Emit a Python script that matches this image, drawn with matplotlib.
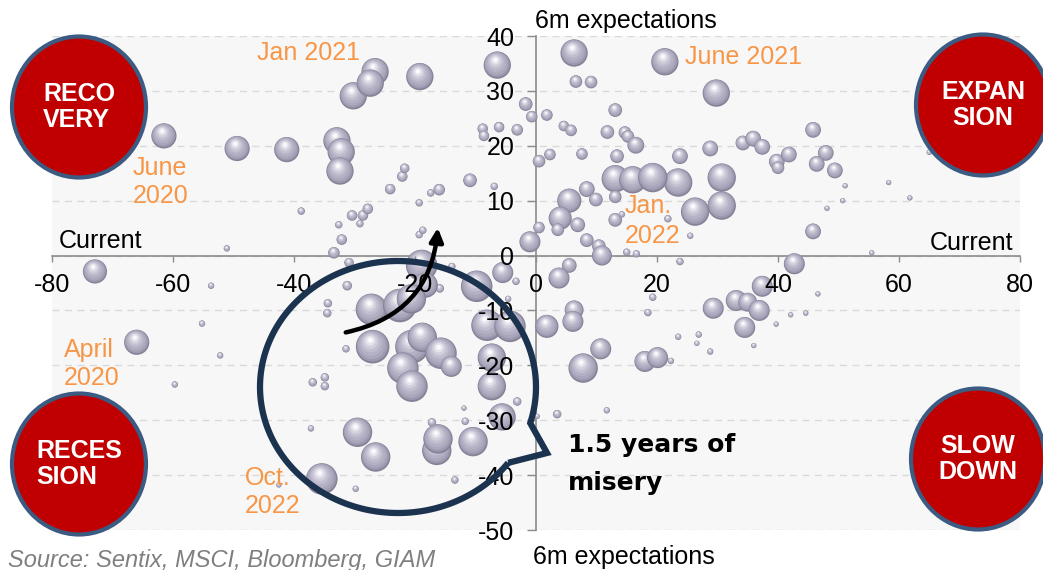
import numpy as np
import matplotlib
matplotlib.use("Agg")
import matplotlib.pyplot as plt
from matplotlib.patches import Ellipse, PathPatch, FancyArrowPatch
from matplotlib.path import Path
from matplotlib.transforms import Affine2D

plt.rcParams['font.family'] = ['Liberation Sans', 'DejaVu Sans']
plt.rcParams['axes.unicode_minus'] = False

# Sentix current situation (x) vs 6m expectations (y), bubble = size of the monthly move
cur = [-61.5, -49.4, -41.2, -32.9, -32.2, -32.4, -30.2, -26.6, -27.4, -19.2, -6.4, -1.7, -0.7,
       -8.8, -8.6, -6.1, -3.1, -38.8, -51.1, -30.4, -28.6, -27.8, -29.1, -32.6, -32.1, -33.4,
       -24.1, -22.1, -21.7, -19.3, -17.4, -16.0, -10.9, -6.9, -19.3, -18.7, -1.0,
       6.3, 6.6, 9.1, 21.3, 29.8, 1.8, 4.6, 5.8, 13.1, 11.8, 14.7, 15.2, 16.5, 0.5, 2.3,
       7.6, 13.4, 23.8, 13.1, 16.0, 23.5, 19.3, 30.7, 30.7, 26.3, 5.5, 4.0, 3.6, 6.9, 8.4,
       9.9, 13.1, 13.1, 14.2, 0.5, 8.4, 10.4, 10.9, 15.0, 16.6, 21.8, 25.5, 28.8, 34.2, 35.9,
       37.4, 45.8, 39.8, 40.0, 41.8, 47.9, 46.4, 49.4, 51.1, 50.7, 48.1, 45.8, 58.3, 61.8,
       65.0, 55.5,
       23.8, 42.7, 5.5, 3.8, 19.3, 18.5, 6.3, 6.1, 1.8, 10.7, 7.8, 18.0, 20.1, 22.3, 23.5,
       26.9, 26.6, 28.8, 29.3, 33.1, 35.0, 36.9, 34.5, 36.0, 37.4, 39.7, 42.1, 44.6, 46.6,
       3.5, 11.7, 0.2,
       -72.9, -53.7, -66.0, -55.2, -52.2, -59.7, -30.9, -31.2, -34.4, -34.5, -31.4, -36.9,
       -34.9, -34.9, -37.2, -35.4, -42.5, -29.8, -18.9, -13.9, -15.9, -18.3, -9.8, -5.5,
       -3.3, -4.6, -8.1, -4.3, -27.2, -22.5, -20.6, -27.0, -20.5, -18.8, -15.7, -14.0, -22.0,
       -20.5, -7.3, -7.3, -3.1, -11.9, -11.7, -17.2, -5.6, -29.5, -26.5, -16.4, -16.2, -10.4,
       -13.4]
exp6m = [21.8, 19.5, 19.3, 20.9, 18.9, 15.4, 29.1, 33.5, 31.4, 32.6, 34.7, 27.6, 25.3,
         23.1, 21.8, 23.4, 22.9, 8.1, 1.3, 7.3, 7.3, 8.5, 5.8, 5.6, 2.9, 0.5,
         12.1, 14.4, 15.9, 9.6, 11.4, 12.0, 13.7, 12.6, 3.8, 4.6, 2.5,
         36.9, 31.7, 31.6, 35.3, 29.6, 25.6, 23.6, 22.8, 26.5, 22.5, 22.4, 21.7, 20.1, 17.2, 18.4,
         18.5, 18.1, 18.1, 14.0, 13.8, 13.3, 14.2, 14.2, 9.1, 8.0, 10.0, 6.8, 4.7, 5.6, 12.1,
         10.2, 10.7, 6.5, 7.5, 5.1, 2.8, 1.7, 0.0, 0.6, 0.3, 6.7, 3.6, 19.5, 20.5, 21.3,
         19.8, 22.9, 17.1, 16.0, 18.4, 18.7, 16.7, 15.5, 12.7, 10.0, 8.6, 4.4, 13.3, 10.5,
         18.8, 0.5,
         -1.1, -1.5, -1.8, -4.1, -7.6, -10.4, -9.9, -12.0, -12.9, -17.0, -20.5, -19.3, -18.6, -19.2, -14.8,
         -14.4, -16.0, -17.5, -9.6, -8.2, -8.5, -10.0, -13.1, -16.4, -5.6, -12.5, -10.8, -10.5, -7.0,
         -28.9, -28.2, -29.3,
         -2.9, -5.5, -15.8, -12.4, -18.2, -23.5, -1.3, -5.5, -8.7, -10.5, -17.0, -23.1,
         -22.2, -23.8, -31.5, -40.7, -41.8, -42.5, -1.8, -2.0, -6.0, -5.4, -5.6, -3.1,
         -4.7, -7.9, -12.7, -12.9, -9.8, -9.1, -7.9, -16.6, -16.6, -14.9, -17.8, -20.2, -20.5,
         -23.8, -18.6, -23.8, -26.6, -27.8, -30.2, -30.4, -29.4, -32.2, -36.7, -35.5, -33.4, -33.9,
         -40.9]
move = [24, 24, 24, 26, 26, 26, 26, 26, 26, 26, 26, 13, 11,
        10, 10, 10, 11, 7, 6, 10, 10, 10, 7, 7, 10, 11,
        10, 10, 9, 7, 7, 11, 13, 7, 7, 7, 20,
        26, 12, 12, 26, 26, 11, 10, 11, 13, 13, 12, 12, 16, 12, 11,
        11, 13, 15, 26, 26, 27, 28, 27, 27, 27, 23, 22, 12, 14, 15,
        13, 12, 13, 6, 11, 13, 13, 19, 7, 7, 7, 6, 15, 14, 15,
        15, 15, 15, 12, 15, 15, 15, 15, 5, 5, 5, 15, 5, 5,
        5, 5,
        7, 20, 14, 20, 7, 7, 18, 20, 22, 20, 28, 20, 20, 6, 6,
        6, 5, 6, 20, 20, 18, 20, 20, 5, 20, 5, 5, 5, 5,
        8, 6, 5,
        23, 6, 24, 6, 6, 6, 9, 9, 8, 8, 7, 8,
        8, 8, 6, 30, 5, 6, 30, 7, 8, 24, 30, 20,
        7, 6, 30, 30, 30, 32, 28, 32, 32, 28, 30, 20, 30,
        30, 27, 27, 8, 5, 7, 8, 26, 28, 28, 28, 28, 28,
        7]

x_ticks = list(range(-80, 81, 20))
y_ticks = list(range(-50, 41, 10))

W, H = 1043, 570
fig = plt.figure(figsize=(W / 100, H / 100), dpi=100)
ax = fig.add_axes([52 / W, 40 / H, 968 / W, 494 / H])
ax.set_xlim(-80, 80)
ax.set_ylim(-50, 40)
ax.set_facecolor('#f7f7f7')

# pixel coordinates, origin top-left
px = Affine2D().scale(0.01, -0.01).translate(0, H / 100) + fig.dpi_scale_trans

for yv in y_ticks:
    ax.axhline(yv, color='#d9d9d9', lw=1, ls=(0, (5, 4)), zorder=0.5)

for side in ['top', 'right']:
    ax.spines[side].set_visible(False)
for side in ['left', 'bottom']:
    ax.spines[side].set_position(('data', 0))
    ax.spines[side].set_color('#8c8c8c')
    ax.spines[side].set_linewidth(1.2)
    ax.spines[side].set_zorder(1)
ax.set_xticks(x_ticks)
ax.set_yticks(y_ticks)
ax.tick_params(axis='x', direction='out', length=4.5, width=1, color='#8c8c8c', pad=8, labelsize=18)
ax.tick_params(axis='y', direction='out', length=6.5, width=1, color='#8c8c8c', pad=9, labelsize=18)
ax.set_axisbelow(False)

# shaded spheres: dark rim, then lighter discs pulled to the upper left
p0 = ax.transData.transform((0, 0))
p1 = ax.transData.transform((1, 1))
ux = 1 / (p1[0] - p0[0])
uy = 1 / (p1[1] - p0[1])
shade = [(1.00, 0.00, 0.00, '#858197'),
         (0.93, -0.02, 0.05, '#9c98ae'),
         (0.84, -0.05, 0.10, '#aaa6bb'),
         (0.72, -0.08, 0.17, '#b5b1c5'),
         (0.58, -0.11, 0.24, '#c2bed0'),
         (0.44, -0.13, 0.30, '#d2cfdc'),
         (0.30, -0.14, 0.35, '#e5e3eb'),
         (0.16, -0.14, 0.38, '#fafafc')]
for x, y, d in zip(cur, exp6m, move):
    r = 1.05 * d / 2
    xs = [x + ox * r * ux for f, ox, oy, c in shade]
    ys = [y + oy * r * uy for f, ox, oy, c in shade]
    ss = [(0.72 * 2 * r * f) ** 2 for f, ox, oy, c in shade]
    cs = [c for f, ox, oy, c in shade]
    ax.scatter(xs, ys, s=ss, c=cs, linewidths=0, zorder=2)

# axis captions
fig.text(535, 28, '6m expectations', transform=px, fontsize=18, va='baseline')
fig.text(533, 564, '6m expectations', transform=px, fontsize=18, va='baseline')
fig.text(59, 248, 'Current', transform=px, fontsize=18, va='baseline')
fig.text(1013, 250, 'Current', transform=px, fontsize=18, va='baseline', ha='right')
fig.text(8, 567, 'Source: Sentix, MSCI, Bloomberg, GIAM', transform=px, fontsize=17,
         va='baseline', style='italic', color='#7f7f7f')

# dates
orange = '#f79646'
dates = [(257, [60], ['Jan 2021']),
         (685, [64], ['June 2021']),
         (133, [175, 203], ['June', '2020']),
         (625, [213, 243], ['Jan.', '2022']),
         (64, [357, 385], ['April', '2020']),
         (245, [485, 513], ['Oct.', '2022'])]
for left, bases, lines in dates:
    for b, t in zip(bases, lines):
        fig.text(left, b, t, transform=px, fontsize=18, color=orange, va='baseline', zorder=3)

# regime badges
badges = [(79, 107, 'RECO\nVERY', 'left'),
          (983, 105, 'EXPAN\nSION', 'center'),
          (79, 464, 'RECES\nSION', 'left'),
          (978, 459, 'SLOW\nDOWN', 'center')]
for cx, cy, label, al in badges:
    fig.add_artist(Ellipse((cx, cy), 134, 141, transform=px, facecolor='#c00000',
                           edgecolor='#3b5b82', lw=3, zorder=4))
    fig.text(cx, cy, label, transform=px, fontsize=18, fontweight='bold', color='white',
             ha='center', va='center', multialignment=al, linespacing=1.12, zorder=5)

# speech bubble around the 2022 cluster
cx, cy, rx, ry = 398, 387, 138, 126
a0 = np.arctan2((462 - cy) / ry, (507 - cx) / rx)
a1 = np.arctan2((423 - cy) / ry, (530 - cx) / rx) + 2 * np.pi
t = np.linspace(a0, a1, 200)
verts = list(zip(cx + rx * np.cos(t), cy + ry * np.sin(t)))
verts += [(547, 453), verts[0]]
bubble = Path(verts)
fig.add_artist(PathPatch(bubble, transform=px, facecolor='none', edgecolor='#1c3350',
                         lw=4.5, joinstyle='miter', zorder=6))
fig.text(568, 452, '1.5 years of', transform=px, fontsize=18, fontweight='bold',
         family='DejaVu Sans', va='baseline', zorder=6)
fig.text(568, 490, 'misery', transform=px, fontsize=18, fontweight='bold',
         family='DejaVu Sans', va='baseline', zorder=6)

fig.add_artist(FancyArrowPatch((343, 333), (438, 225), transform=px,
                               connectionstyle='arc3,rad=0.38', arrowstyle='-|>',
                               mutation_scale=20, lw=3.2, color='black', zorder=6))

fig.savefig('out.png', dpi=100)
